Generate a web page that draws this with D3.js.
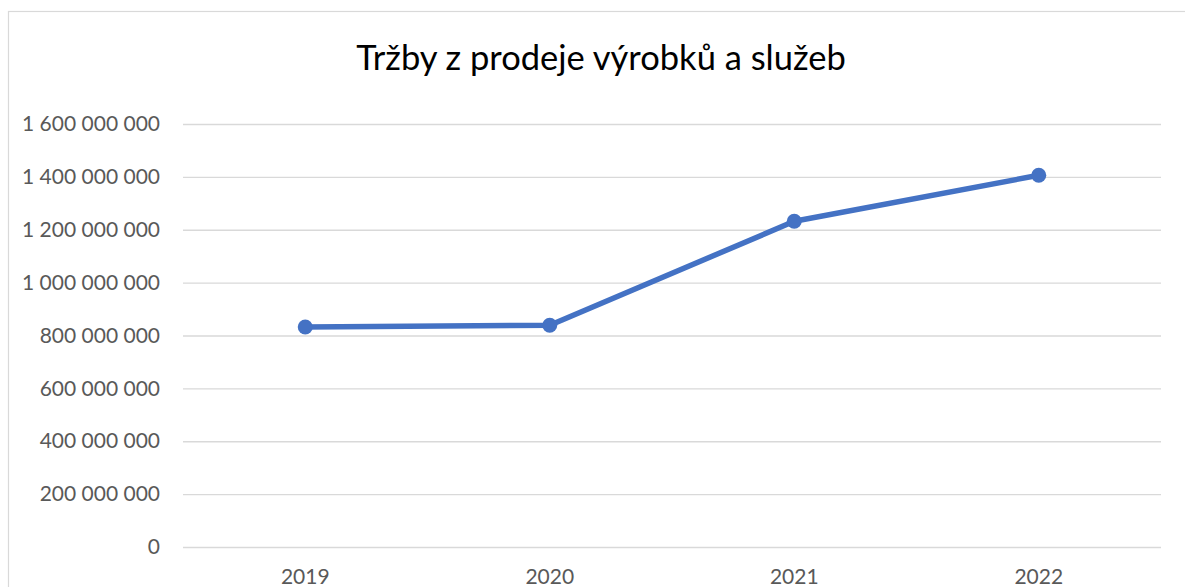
<!DOCTYPE html>
<html><head><meta charset="utf-8">
<script src="https://cdnjs.cloudflare.com/ajax/libs/d3/7.8.5/d3.min.js"></script>
<style>body{margin:0;background:#fff;overflow:hidden}</style>
</head><body>
<script>
const title = "Tržby z prodeje výrobků a služeb";
const categories = ["2019", "2020", "2021", "2022"];
const values = [832000000, 838500000, 1232000000, 1406000000];
const yTicks = [0, 200000000, 400000000, 600000000, 800000000, 1000000000, 1200000000, 1400000000, 1600000000];

(function () {
const W = 1185, H = 587;
const svg = d3.select("body").append("svg").attr("width", W).attr("height", H);
svg.append("rect").attr("x", 8.5).attr("y", 11.5).attr("width", 1200).attr("height", 600)
  .attr("fill", "#fff").attr("stroke", "#d9d9d9").attr("stroke-width", 1.2);

const mLeft = 183, mRight = 1161, mTop = 124, mBottom = 547;
const x = d3.scaleBand().domain(categories).range([mLeft, mRight]);
const y = d3.scaleLinear().domain([0, 1600000000]).range([mBottom, mTop]);
const fmt = v => d3.format(",")(v).replace(/,/g, " ");

const yAxis = d3.axisLeft(y).tickValues(yTicks).tickFormat(fmt).tickSize(-(mRight - mLeft)).tickPadding(23);
const gy = svg.append("g").attr("transform", `translate(${mLeft},0)`).call(yAxis);
gy.select(".domain").remove();
gy.selectAll(".tick line").attr("stroke", "#d9d9d9").attr("stroke-width", 1.3);
gy.selectAll(".tick text").attr("fill", "#595959").style("font-family", "Lato, sans-serif").style("font-size", "21px");

const xAxis = d3.axisBottom(x).tickSize(0).tickPadding(22);
const gx = svg.append("g").attr("transform", `translate(0,${mBottom})`).call(xAxis);
gx.select(".domain").remove();
gx.selectAll(".tick text").attr("fill", "#595959").style("font-family", "Lato, sans-serif").style("font-size", "21px");

const line = d3.line().x((d, i) => x(categories[i]) + x.bandwidth() / 2).y(d => y(d));
svg.append("path").datum(values).attr("d", line).attr("fill", "none")
  .attr("stroke", "#4472C4").attr("stroke-width", 5.5).attr("stroke-linejoin", "round");
svg.selectAll("circle.pt").data(values).enter().append("circle").attr("class", "pt")
  .attr("cx", (d, i) => x(categories[i]) + x.bandwidth() / 2).attr("cy", d => y(d))
  .attr("r", 7.5).attr("fill", "#4472C4");

svg.append("text").attr("x", 601).attr("y", 70).attr("text-anchor", "middle")
  .style("font-family", "Lato, sans-serif").style("font-size", "34.5px").attr("fill", "#000").text(title);
})();
</script>
</body></html>
